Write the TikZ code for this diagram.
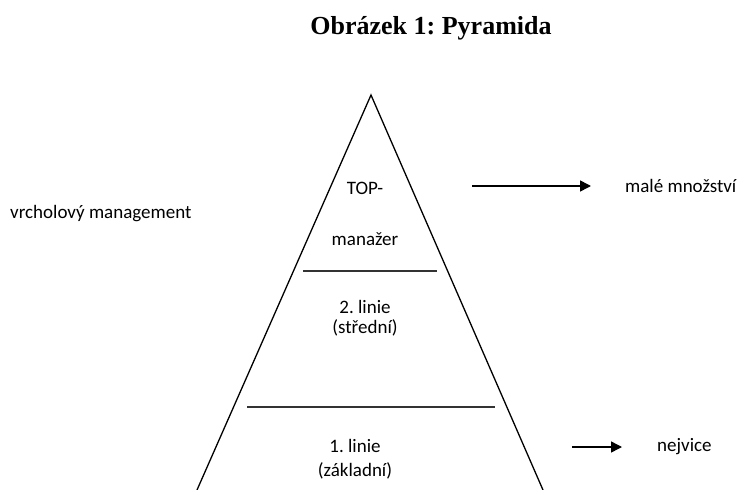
\documentclass[tikz,border=0pt]{standalone}
\usepackage{fontspec}
\setmainfont{Carlito}
\newfontfamily\titlefont{Liberation Serif}
\usetikzlibrary{arrows.meta}
\frenchspacing

\begin{document}
\begin{tikzpicture}[x=1pt,y=-1pt,
  lbl/.style={align=center,inner sep=0pt,font=\fontsize{19}{20}\selectfont},
  arr/.style={-{Triangle[length=11pt,width=11pt]},draw=black,line width=1.5pt}]
\useasboundingbox (0,0) rectangle (745,490);
\node[font=\titlefont\bfseries\fontsize{26}{30}\selectfont,inner sep=0pt] (title) at (431,28) {Obrázek 1: Pyramida};

\coordinate (top) at (371,95);
\coordinate (bl) at (197,490);
\coordinate (br) at (543,490);
\coordinate (l1a) at (303,271);
\coordinate (l1b) at (437,271);
\coordinate (l2a) at (247,407);
\coordinate (l2b) at (495,407);
\draw[line width=1.3pt] (bl) -- (top) -- (br);
\draw[line width=1.3pt,draw=black!80] (l1a) -- (l1b);
\draw[line width=1.3pt,draw=black!80] (l2a) -- (l2b);

\node[lbl] (0) at (365,188) {TOP-};
\node[lbl] (1) at (365,239) {manažer};
\node[lbl] (2) at (365,318) {2. linie\\(střední)};
\node[lbl,font=\fontsize{19}{24}\selectfont] (3) at (355,459) {1. linie\\(základní)};
\node[lbl,anchor=west] (4) at (10,214) {vrcholový management};
\node[lbl,anchor=west] (5) at (625,186) {malé množství};
\node[lbl,anchor=west] (6) at (657,447) {nejvice};

\coordinate (a0) at (472,186);
\coordinate (a1) at (591,186);
\coordinate (b0) at (572,447);
\coordinate (b1) at (622,447);
\draw[arr] (a0) -- (a1);
\draw[arr] (b0) -- (b1);
\end{tikzpicture}
\end{document}
